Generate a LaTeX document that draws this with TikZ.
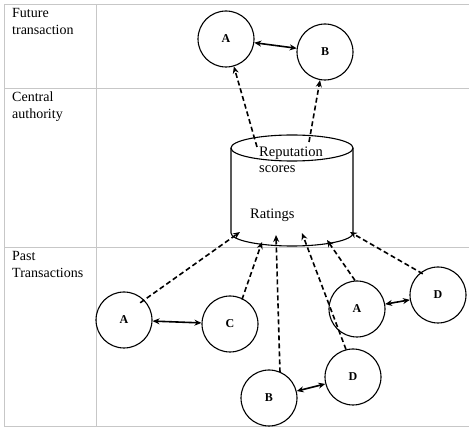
\documentclass[tikz,border=0pt]{standalone}
\usepackage{fontspec}
\setmainfont{Liberation Serif}
\usetikzlibrary{arrows.meta,shapes.geometric}
\begin{document}
\begin{tikzpicture}[x=1pt,y=-1pt,
  grid/.style={draw=black!22, line width=1pt},
  circ/.style={circle, draw, line width=1.1pt, minimum size=56pt, inner sep=0pt, font=\fontsize{12}{14}\selectfont\bfseries},
  lbl/.style={anchor=north west, align=left, inner sep=0pt, font=\fontsize{14}{17}\selectfont},
  solidarr/.style={{Stealth[length=7pt,width=6pt]}-{Stealth[length=7pt,width=6pt]}, line width=1.6pt},
  dasharr/.style={-{Stealth[length=7pt,width=6pt]}, line width=1.6pt, dash pattern=on 5pt off 3pt},
  txt/.style={inner sep=0pt, anchor=north west, align=left, font=\fontsize{14.5}{16}\selectfont}]
\useasboundingbox (0,0) rectangle (469,430);
% table
\draw[grid] (469,5) -- (4,5) -- (4,427) -- (469,427);
\draw[grid] (4,89) -- (469,89);
\draw[grid] (4,248) -- (469,248);
\draw[grid] (96,5) -- (96,427);
\node[lbl] (l1) at (12,8) {Future\\transaction};
\node[lbl] (l2) at (12,92) {Central\\authority};
\node[lbl] (l3) at (12,251) {Past\\Transactions};
% cylinder
\draw[line width=1.1pt] (292,148) ellipse [x radius=61, y radius=13];
\draw[line width=1.1pt] (231,148) -- (231,233) arc[start angle=180, end angle=0, x radius=61, y radius=13] -- (353,148);
\coordinate (top1) at (257,147);
\coordinate (top2) at (309,142);
\node[txt] (rep) at (259,147) {Reputation\\scores};
\node[txt] (rat) at (250,209) {Ratings};
% future
\node[circ] (fa) at (226,39) {A};
\node[circ] (fb) at (325,52) {B};
\draw[solidarr] (fa) -- (fb);
\draw[dasharr] (top1) -- (fa);
\draw[dasharr] (top2) -- (fb);
% past
\node[circ] (pa) at (124,320) {A};
\node[circ] (pc) at (230,324) {C};
\node[circ] (pb) at (269,398) {B};
\node[circ] (pd) at (353,377) {D};
\node[circ] (pa2) at (357,309) {A};
\node[circ] (pd2) at (438,295) {D};
\draw[solidarr] (pa) -- (pc);
\draw[solidarr] (pb) -- (pd);
\draw[solidarr] (pa2) -- (pd2);
\coordinate (t1) at (240,232);
\coordinate (t2) at (262,242);
\coordinate (t3) at (276,235);
\coordinate (t4) at (302,233);
\coordinate (t5) at (327,240);
\coordinate (t6) at (350,232);
\draw[dasharr] (pa.north east) ++(-4,3) -- (t1);
\draw[dasharr] (pc.north) ++(12,4) -- (t2);
\draw[dasharr] (pb.north) ++(11,3) -- (t3);
\draw[dasharr] (pd.north) ++(-7,1) -- (t4);
\draw[dasharr] (pa2.north) ++(-2,0) -- (t5);
\draw[dasharr] (pd2.north west) ++(5,-1) -- (t6);
\end{tikzpicture}
\end{document}
